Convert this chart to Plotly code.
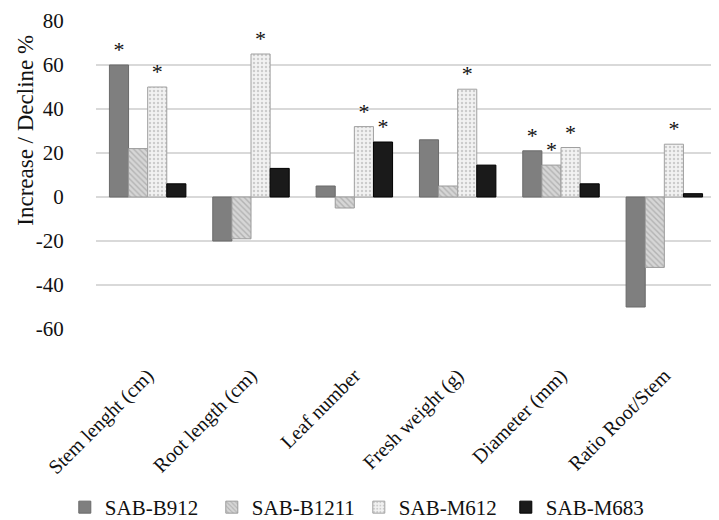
import plotly.graph_objects as go

categories = ["Stem lenght (cm)", "Root length (cm)", "Leaf number",
              "Fresh weight (g)", "Diameter (mm)", "Ratio Root/Stem"]
series_names = ["SAB-B912", "SAB-B1211", "SAB-M612", "SAB-M683"]

b912 = [60, -20, 5, 26, 21, -50]
b1211 = [22, -19, -5, 5, 14.5, -32]
m612 = [50, 65, 32, 49, 22.5, 24]
m683 = [6, 13, 25, 14.5, 6, 1.5]

# significance marks per bar
sig_b912 = ["*", "", "", "", "*", ""]
sig_b1211 = ["", "", "", "", "*", ""]
sig_m612 = ["*", "*", "*", "*", "*", "*"]
sig_m683 = ["", "", "*", "", "", ""]

y_ticks = [-60, -40, -20, 0, 20, 40, 60, 80]
y_tick_labels = ["-60", "-40", "-20", "0", "20", "40", "60", "80"]

FONT = "Liberation Serif, Times New Roman, serif"

styles = [
    dict(color="#7f7f7f", line=dict(color="#6a6a6a", width=1)),
    dict(color="#cfcfcf", line=dict(color="#9a9a9a", width=1),
         pattern=dict(shape="\\", fgcolor="#8f8f8f", bgcolor="#d6d6d6", size=4, solidity=0.35)),
    dict(color="#efefef", line=dict(color="#a0a0a0", width=1),
         pattern=dict(shape=".", fgcolor="#a5a5a5", bgcolor="#f2f2f2", size=4, solidity=0.3)),
    dict(color="#1a1a1a", line=dict(color="#000000", width=1)),
]

fig = go.Figure()
for name, vals, sig, st in zip(series_names, [b912, b1211, m612, m683],
                               [sig_b912, sig_b1211, sig_m612, sig_m683], styles):
    fig.add_trace(go.Bar(
        name=name, x=categories, y=vals, marker=st,
        text=sig, textposition="outside", constraintext="none",
        textfont=dict(family=FONT, size=22, color="#111111"),
        cliponaxis=False,
    ))

fig.update_layout(
    width=719, height=520,
    margin=dict(l=88, r=11, t=13, b=199, autoexpand=False),
    paper_bgcolor="white", plot_bgcolor="white",
    barmode="group", bargap=0.26, bargroupgap=0,
    font=dict(family=FONT, size=20, color="#111111"),
    showlegend=True,
    legend=dict(orientation="h", xref="container", x=0.079, xanchor="left",
                yref="container", y=0.0, yanchor="bottom",
                font=dict(family=FONT, size=21, color="#111111"),
                entrywidth=102, entrywidthmode="pixels",
                itemwidth=30, tracegroupgap=0),
    annotations=[dict(text="Increase / Decline %", textangle=-90,
                      xref="paper", yref="paper", x=-0.115, y=0.646,
                      xanchor="center", yanchor="middle",
                      showarrow=False, font=dict(family=FONT, size=23, color="#111111"))],
)
fig.update_xaxes(showgrid=False, showline=False, zeroline=False, automargin=False,
                 tickangle=-45, ticks="outside", ticklen=26, tickcolor="rgba(0,0,0,0)",
                 tickfont=dict(family=FONT, size=20, color="#111111"))
fig.update_yaxes(range=[-60, 80], tickvals=y_ticks, ticktext=y_tick_labels, showgrid=True,
                 gridcolor="#d9d9d9", gridwidth=1.5, zeroline=True, automargin=False,
                 zerolinecolor="#d9d9d9", zerolinewidth=1.5, showline=False,
                 ticks="outside", ticklen=27, tickcolor="rgba(0,0,0,0)",
                 tickfont=dict(family=FONT, size=21, color="#111111"))

fig.write_html("out.html")
